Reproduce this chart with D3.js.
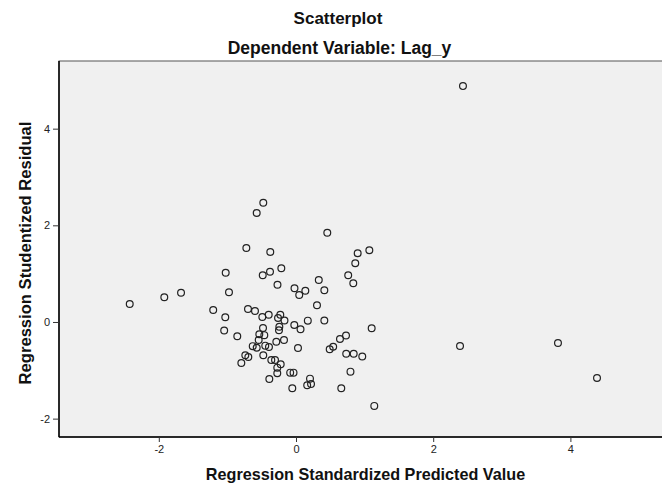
<!DOCTYPE html>
<html>
<head>
<meta charset="utf-8">
<script src="https://cdn.jsdelivr.net/npm/d3@7"></script>
<style>
  html, body { margin: 0; padding: 0; background: #fff; }
  svg { display: block; }
</style>
</head>
<body>
<svg id="chart" width="662" height="484"></svg>
<script>
// Regression standardized predicted value (x)
const predicted = [
  2.434, -0.477, -0.573, 0.456, -0.724, -0.375, 0.899, 1.069, 0.864, -1.025,
  -0.214, -0.379, -0.485, 0.761, 0.835, 0.332, -0.270, -0.022, 0.136, 0.047,
  0.413, -0.977, -1.676, -1.920, -2.424, 0.306, -1.207, -0.700, -0.598, -1.031,
  -0.491, -0.398, -0.229, -0.262, -0.168, -0.025, 0.066, 0.172, 0.413, 1.103,
  -1.047, -0.856, -0.481, -0.243, -0.248, -0.535, -0.462, -0.544, -0.175, -0.287,
  -0.631, -0.573, -0.448, -0.394, 0.029, 0.641, 0.729, 0.491, 0.542, 0.732,
  0.841, 0.966, -0.739, -0.695, -0.477, -0.360, -0.306, -0.797, -0.223, -0.273,
  0.794, -0.273, -0.085, -0.036, -0.389, 0.204, 0.163, 0.219, -0.054, 0.660,
  1.141, 2.391, 3.819, 4.388
];
// Regression studentized residual (y)
const residual = [
  4.881, 2.467, 2.254, 1.847, 1.530, 1.448, 1.421, 1.483, 1.214, 1.020,
  1.111, 1.040, 0.966, 0.968, 0.800, 0.869, 0.769, 0.697, 0.647, 0.558,
  0.656, 0.614, 0.606, 0.511, 0.372, 0.345, 0.248, 0.269, 0.228, 0.097,
  0.103, 0.151, 0.149, 0.083, 0.031, -0.062, -0.151, 0.027, 0.031, -0.130,
  -0.176, -0.296, -0.124, -0.099, -0.170, -0.254, -0.273, -0.372, -0.372, -0.410,
  -0.500, -0.532, -0.490, -0.517, -0.538, -0.352, -0.279, -0.563, -0.513, -0.656,
  -0.656, -0.714, -0.687, -0.724, -0.689, -0.786, -0.786, -0.848, -0.875, -0.945,
  -1.028, -1.061, -1.049, -1.049, -1.179, -1.173, -1.309, -1.282, -1.371, -1.371,
  -1.737, -0.496, -0.434, -1.158
];
const xTicks = [-2, 0, 2, 4];
const yTicks = [-2, 0, 2, 4];
const titleText = "Scatterplot";
const subtitleText = "Dependent Variable: Lag_y";
const xLabel = "Regression Standardized Predicted Value";
const yLabel = "Regression Studentized Residual";

const points = predicted.map((v, i) => ({ x: v, y: residual[i] }));

const svg = d3.select("#chart");
const plotL = 59, plotR = 663, plotT = 61, plotB = 437;

const x = d3.scaleLinear().domain([-3.455, 5.35]).range([plotL, plotR]);
const y = d3.scaleLinear().domain([-2.38, 5.40]).range([plotB, plotT]);

const font = "'Liberation Sans', Arial, sans-serif";

// plot background
svg.append("rect")
  .attr("x", plotL).attr("y", plotT)
  .attr("width", plotR - plotL).attr("height", plotB - plotT)
  .attr("fill", "#f0f0f0")
  .attr("stroke", "#555").attr("stroke-width", 1);

// axes
const xAxis = d3.axisBottom(x).tickValues(xTicks).tickSize(5).tickPadding(3).tickFormat(d3.format("d"));
const yAxis = d3.axisLeft(y).tickValues(yTicks).tickSize(6).tickPadding(3).tickFormat(d3.format("d"));

const gx = svg.append("g").attr("transform", `translate(0,${plotB})`).call(xAxis);
const gy = svg.append("g").attr("transform", `translate(${plotL},0)`).call(yAxis);

[gx, gy].forEach(g => {
  g.select(".domain").attr("stroke", "#000").attr("stroke-width", 1.5);
  g.selectAll(".tick line").attr("stroke", "#333");
  g.selectAll(".tick text")
    .attr("font-family", font).attr("font-size", 11).attr("fill", "#222")
    .text(d => d < 0 ? "-" + Math.abs(d) : String(d));
});
gx.select(".domain").attr("d", `M${plotL},0H${plotR}`);
gy.select(".domain").attr("d", `M0,${plotT}V${plotB}`);

// points
svg.append("g")
  .selectAll("circle")
  .data(points)
  .join("circle")
  .attr("cx", d => x(d.x))
  .attr("cy", d => y(d.y))
  .attr("r", 3.4)
  .attr("fill", "none")
  .attr("stroke", "#222")
  .attr("stroke-width", 1.2);

// titles
svg.append("text")
  .attr("x", 338).attr("y", 24)
  .attr("text-anchor", "middle")
  .attr("font-family", font).attr("font-weight", "bold").attr("font-size", 17)
  .attr("fill", "#111")
  .text(titleText);
svg.append("text")
  .attr("x", 339.5).attr("y", 54)
  .attr("text-anchor", "middle")
  .attr("font-family", font).attr("font-weight", "bold").attr("font-size", 17.5)
  .attr("fill", "#111")
  .text(subtitleText);

// axis labels
svg.append("text")
  .attr("x", 365.5).attr("y", 480)
  .attr("text-anchor", "middle")
  .attr("font-family", font).attr("font-weight", "bold").attr("font-size", 16.2)
  .attr("fill", "#111")
  .text(xLabel);
svg.append("text")
  .attr("transform", `translate(31,253) rotate(-90)`)
  .attr("text-anchor", "middle")
  .attr("font-family", font).attr("font-weight", "bold").attr("font-size", 16.6)
  .attr("fill", "#111")
  .text(yLabel);
</script>
</body>
</html>
